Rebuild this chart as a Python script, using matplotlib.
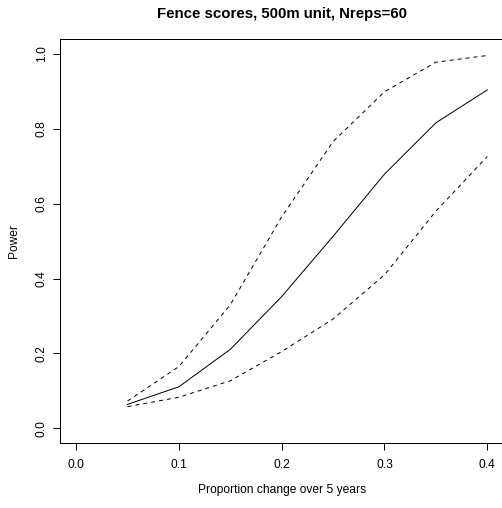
import matplotlib
matplotlib.use("Agg")
import matplotlib.pyplot as plt

# proportion change and power estimates
change = [0.05, 0.10, 0.15, 0.20, 0.25, 0.30, 0.35, 0.40]
power_mean = [0.064, 0.111, 0.211, 0.352, 0.513, 0.679, 0.816, 0.904]
power_upper = [0.073, 0.165, 0.330, 0.565, 0.766, 0.899, 0.978, 0.996]
power_lower = [0.058, 0.083, 0.127, 0.205, 0.292, 0.410, 0.580, 0.726]

xticks = [0.0, 0.1, 0.2, 0.3, 0.4]
yticks = [0.0, 0.2, 0.4, 0.6, 0.8, 1.0]

plt.rcParams['font.family'] = ['Liberation Sans', 'DejaVu Sans']

dpi = 72
fig = plt.figure(figsize=(502 / dpi, 508 / dpi), dpi=dpi)
ax = fig.add_axes([59.7 / 502, 1 - 443.3 / 508, 444.0 / 502, 404.3 / 508])

ax.plot(change, power_mean, color='black', lw=1)
ax.plot(change, power_upper, color='black', lw=1, linestyle=(0, (4, 4)))
ax.plot(change, power_lower, color='black', lw=1, linestyle=(0, (4, 4)))

ax.set_xlim(-0.016, 0.416)
ax.set_ylim(-0.04, 1.04)
ax.set_xticks(xticks)
ax.set_xticklabels([f"{v:.1f}" for v in xticks])
ax.set_yticks(yticks)
ax.set_yticklabels([f"{v:.1f}" for v in yticks], rotation=90, va='center')
ax.tick_params(axis='both', direction='out', length=7, width=1, labelsize=12, color='black')
ax.tick_params(axis='x', pad=9)
ax.tick_params(axis='y', pad=5)
for s in ax.spines.values():
    s.set_linewidth(1)
    s.set_color('black')

fig.text(0.5 * (59.7 + 503.7) / 502, 1 - 14 / 508, "Fence scores, 500m unit, Nreps=60",
         ha='center', va='center', fontsize=15, fontweight='bold')
fig.text(0.5 * (59.7 + 503.7) / 502, 1 - 490 / 508, "Proportion change over 5 years",
         ha='center', va='center', fontsize=12)
fig.text(14 / 502, 1 - (39 + 443.3) / 2 / 508, "Power",
         ha='center', va='center', fontsize=12, rotation=90)

fig.savefig("out.png", dpi=dpi)
